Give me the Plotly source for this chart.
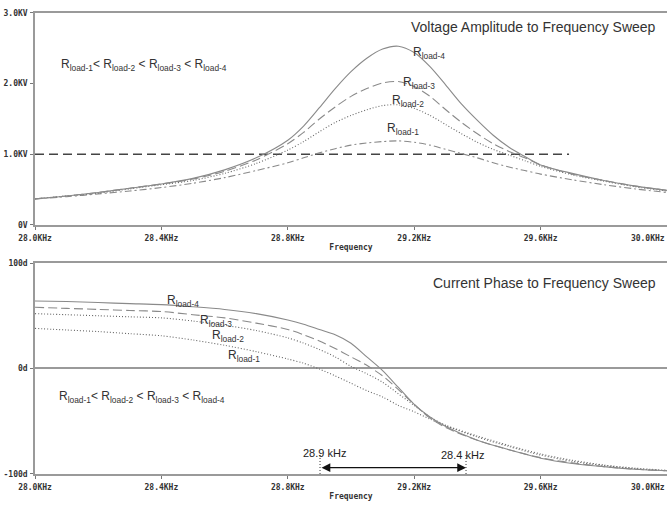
import plotly.graph_objects as go

# ---------------- data ----------------
freq_v = [28.0, 28.1, 28.2, 28.3, 28.4, 28.5, 28.6, 28.7, 28.8, 28.85, 28.9, 28.95,
          29.0, 29.05, 29.1, 29.15, 29.2, 29.25, 29.3, 29.35, 29.4, 29.45, 29.5,
          29.55, 29.6, 29.7, 29.8, 29.9, 30.0]
v_r4 = [0.37, 0.41, 0.46, 0.52, 0.58, 0.66, 0.78, 0.95, 1.20, 1.40, 1.66, 1.93,
        2.17, 2.36, 2.49, 2.53, 2.44, 2.24, 1.98, 1.71, 1.48, 1.27, 1.10,
        0.97, 0.85, 0.73, 0.63, 0.55, 0.49]
v_r3 = [0.37, 0.41, 0.46, 0.52, 0.58, 0.65, 0.76, 0.92, 1.15, 1.31, 1.50, 1.67,
        1.82, 1.93, 2.01, 2.03, 1.96, 1.82, 1.63, 1.45, 1.29, 1.15, 1.04,
        0.95, 0.85, 0.72, 0.63, 0.55, 0.49]
v_r2 = [0.37, 0.41, 0.45, 0.51, 0.57, 0.63, 0.73, 0.87, 1.06, 1.18, 1.32, 1.45,
        1.55, 1.63, 1.69, 1.70, 1.65, 1.55, 1.42, 1.29, 1.17, 1.07, 0.99,
        0.91, 0.83, 0.71, 0.62, 0.54, 0.48]
v_r1 = [0.37, 0.40, 0.44, 0.48, 0.53, 0.59, 0.67, 0.77, 0.88, 0.95, 1.02, 1.08,
        1.13, 1.16, 1.18, 1.19, 1.17, 1.13, 1.07, 1.01, 0.95, 0.88, 0.82,
        0.77, 0.72, 0.64, 0.57, 0.51, 0.46]
ref_line_x = [28.0, 29.69]
ref_line_v = [1.0, 1.0]

freq_p = [28.0, 28.1, 28.2, 28.3, 28.4, 28.5, 28.6, 28.7, 28.8, 28.85, 28.9, 28.95,
          29.0, 29.05, 29.1, 29.15, 29.2, 29.25, 29.3, 29.4, 29.5, 29.6, 29.7,
          29.8, 29.9, 30.0]
p_r4 = [64, 63.5, 62.5, 61.5, 60.5, 58.5, 56, 52, 46, 42, 37, 32,
        24, 11, -2, -18, -34, -46, -55, -68, -77, -85, -90,
        -93, -95.5, -97]
p_r3 = [58, 57, 56, 55, 54, 51, 48, 43, 37, 32, 26, 19,
        11, 3, -7, -20, -34, -47, -56, -68, -77, -84.5, -89.5,
        -93, -95.5, -97]
p_r2 = [52, 51, 50, 49, 48, 45, 41, 36, 29, 24, 18, 11,
        2, -5, -13, -24, -35, -46, -54, -65, -74, -82, -88,
        -92, -95, -97]
p_r1 = [38, 36.5, 35, 33, 31, 27, 22, 16, 9, 5, -0.5, -7,
        -14, -21, -27, -35, -41, -48, -54, -64, -73, -81, -87,
        -91.5, -94.5, -96.5]

x_tickvals = [28.0, 28.4, 28.8, 29.2, 29.6, 30.0]
x_ticktext = ["28.0KHz", "28.4KHz", "28.8KHz", "29.2KHz", "29.6KHz",
              "30.0KHz" + "\u00a0" * 8]
v_tickvals = [0, 1, 2, 3]
v_ticktext = ["0V", "1.0KV", "2.0KV", "3.0KV"]
p_tickvals = [-100, 0, 100]
p_ticktext = ["-100d", "0d", "100d"]

bw_lo, bw_hi = 28.902, 29.364
bw_labels = ["28.9 kHz", "28.4 kHz"]

# ---------------- styling ----------------
GRAY = "#8a8a8a"
DOT = "#666666"
tickfont = dict(family="DejaVu Sans Mono", size=8, color="#333333", weight="bold")

fig = go.Figure()

def add(x, y, ax, color, dash, width=1.1):
    fig.add_trace(go.Scatter(x=x, y=y, mode="lines", xaxis=ax[0], yaxis=ax[1],
                             line=dict(color=color, dash=dash, width=width, shape="spline", smoothing=0.8),
                             showlegend=False, hoverinfo="skip"))

top = ("x", "y")
bot = ("x2", "y2")
add(ref_line_x, ref_line_v, top, "#444444", "9px,5px", 1.6)
add(freq_v, v_r1, top, GRAY, "7px,3px,2px,3px")
add(freq_v, v_r2, top, DOT, "1px,2px")
add(freq_v, v_r3, top, GRAY, "9px,4px")
add(freq_v, v_r4, top, GRAY, "solid")

add(freq_p, p_r1, bot, DOT, "1px,2px")
add(freq_p, p_r2, bot, DOT, "1px,2px")
add(freq_p, p_r3, bot, GRAY, "9px,4px")
add(freq_p, p_r4, bot, GRAY, "solid")

xcommon = dict(range=[28.0, 30.0], tickvals=x_tickvals, ticktext=x_ticktext,
               tickfont=tickfont, showgrid=False, zeroline=False,
               showline=True, linecolor="#9a9a9a", linewidth=1.5, mirror=True,
               ticks="outside", ticklen=3, tickcolor="#777", tickangle=0,
               ticklabelstandoff=2, ticklabeloverflow="allow", automargin=False,
               title=dict(text="Frequency", font=tickfont, standoff=2))
ycommon = dict(tickfont=tickfont, showgrid=False, showline=True, linecolor="#9a9a9a",
               linewidth=1.5, ticks="outside", ticklen=3, tickcolor="#777",
               ticklabelstandoff=1, ticklabeloverflow="allow", automargin=False)

fig.update_layout(
    width=667, height=505,
    margin=dict(l=35, r=0, t=0, b=0, autoexpand=False),
    paper_bgcolor="white", plot_bgcolor="white",
    xaxis=dict(anchor="y", **xcommon),
    xaxis2=dict(anchor="y2", **xcommon),
    yaxis=dict(anchor="x", domain=[0.5545, 0.9743], range=[0, 3],
               tickvals=v_tickvals, ticktext=v_ticktext, zeroline=False, **ycommon),
    yaxis2=dict(anchor="x2", domain=[0.0614, 0.4792], range=[-100, 100],
                tickvals=p_tickvals, ticktext=p_ticktext,
                zeroline=True, zerolinecolor="#9a9a9a", zerolinewidth=1.5, **ycommon),
)

ann = []
def lab(text, x, y, xr, yr, size=12, xanchor="left"):
    ann.append(dict(text=text, x=x, y=y, xref=xr, yref=yr, showarrow=False,
                    xanchor=xanchor, yanchor="middle",
                    font=dict(family="Liberation Sans, Arial", size=size, color="#333333")))

ineq = ("R<sub>load-1</sub>< R<sub>load-2</sub> < R<sub>load-3</sub> < R<sub>load-4</sub>")
lab(ineq, 28.075, 2.27, "x", "y")
lab(ineq, 28.07, -27, "x2", "y2")
lab("Voltage Amplitude to Frequency Sweep", 29.97, 2.8, "x", "y", 14, "right")
lab("Current Phase to Frequency Sweep", 29.97, 81, "x2", "y2", 14, "right")

lab("R<sub>load-4</sub>", 29.19, 2.43, "x", "y")
lab("R<sub>load-3</sub>", 29.158, 2.01, "x", "y")
lab("R<sub>load-2</sub>", 29.122, 1.76, "x", "y")
lab("R<sub>load-1</sub>", 29.108, 1.36, "x", "y")

lab("R<sub>load-4</sub>", 28.41, 64, "x2", "y2")
lab("R<sub>load-3</sub>", 28.515, 45, "x2", "y2")
lab("R<sub>load-2</sub>", 28.555, 30.5, "x2", "y2")
lab("R<sub>load-1</sub>", 28.605, 11.5, "x2", "y2")

ann.append(dict(text=bw_labels[0], x=bw_lo + 0.015, y=-80, xref="x2", yref="y2",
                showarrow=False, xanchor="center", yanchor="middle",
                font=dict(family="Liberation Sans, Arial", size=11, color="#222")))
ann.append(dict(text=bw_labels[1], x=bw_hi - 0.01, y=-82, xref="x2", yref="y2",
                showarrow=False, xanchor="center", yanchor="middle",
                font=dict(family="Liberation Sans, Arial", size=11, color="#222")))
ann.append(dict(text="", x=bw_hi, y=-94, ax=bw_lo, ay=-94, xref="x2", yref="y2",
                axref="x2", ayref="y2", showarrow=True, arrowside="end+start",
                arrowhead=2, arrowsize=1.6, arrowwidth=1.1, arrowcolor="#111"))
fig.update_layout(annotations=ann)

for xv in (bw_lo, bw_hi):
    fig.add_shape(type="line", x0=xv, x1=xv, y0=-100, y1=-81, xref="x2", yref="y2",
                  line=dict(color="#333", width=1, dash="1px,2px"))

fig.write_html("out.html", config={"displayModeBar": False},
               post_script="document.body.style.margin='0';document.body.style.overflow='hidden';")
